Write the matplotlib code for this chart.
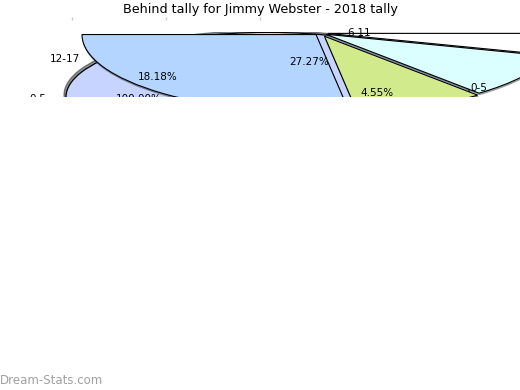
import matplotlib
matplotlib.use('Agg')
import matplotlib.pyplot as plt

W, H = 520, 390

title = 'Behind tally for Jimmy Webster - 2018 tally'

# front pie, only its lower half lands inside the clip box
main_shares = [27.27, 9.09, 9.09, 4.55]
main_colors = ['#b3d5ff', '#d1eb8c', '#dbffff', '#ffffff']
main_explode = [0.026, 0.046, 0.03, 0.034]   # fraction of radius

# pie sitting behind it (single slice)
back_shares = [100.0]
back_colors = ['#c6d4ff']

label_texts = ['12-17', '18.18%', '27.27%', '6-11', '4.55%', '0-5', '100.00%', '0-5']
label_px = [(65, 59), (158, 77), (309, 62), (359, 33), (377, 93), (479, 88), (139, 99), (38, 99)]

top_ticks = [72, 166, 260]

# clip box in pixels
clip_top, clip_bot = 32, 97
s_main, s_back = 0.333, 0.32      # vertical squash of each pie
r_main, r_back = 234, 202
k = 100 / 72.0                    # Shadow offsets are scaled by dpi/72

fig = plt.figure(figsize=(W / 100, H / 100), dpi=100)
rect = [0, 1 - clip_bot / H, 1, (clip_bot - clip_top) / H]

ax_back = fig.add_axes(rect)
ax_back.pie([v / 100 for v in back_shares], colors=back_colors, normalize=False,
            center=(268, -97 / s_back), radius=r_back,
            wedgeprops={'edgecolor': 'black', 'linewidth': 0.9},
            shadow={'ox': -2 / k, 'oy': 2 / s_back / k, 'shade': 0.85})
ax_back.set_aspect('auto')
ax_back.set_xlim(0, W)
ax_back.set_ylim(-clip_bot / s_back, -clip_top / s_back)
ax_back.axis('off')

ax = fig.add_axes(rect)
ax.patch.set_alpha(0)
# pie's explode offset is in data units, so scale it by the radius
ax.pie([v / 100 for v in main_shares], colors=main_colors, normalize=False,
       startangle=180, explode=[e * r_main for e in main_explode],
       center=(320, -33 / s_main), radius=r_main,
       wedgeprops={'edgecolor': 'black', 'linewidth': 0.8},
       shadow={'ox': 0.5 / k, 'oy': -1.5 / s_main / k, 'shade': 0.6})
ax.set_aspect('auto')
ax.set_xlim(0, W)
ax.set_ylim(-clip_bot / s_main, -clip_top / s_main)
ax.axis('off')

# keep every wedge (and its shadow) inside the plot box
for a in (ax_back, ax):
    for p in a.patches:
        p.set_clip_on(True)
        p.set_clip_box(a.bbox)

for txt, (x, y) in zip(label_texts, label_px):
    t = ax.text(x / W, 1 - y / H, txt, transform=fig.transFigure, fontsize=7.5,
                ha='center', va='center')
    if y > clip_bot:
        t.set_clip_on(True)
        t.set_clip_box(ax.bbox)

# faint tick marks above the plot
ax_t = fig.add_axes([0, 1 - 20 / H, 1, 0.0001])
ax_t.set_xlim(0, W)
ax_t.set_xticks(top_ticks)
ax_t.set_yticks([])
ax_t.tick_params(axis='x', top=True, bottom=False, labeltop=False, labelbottom=False,
                 length=2.5, width=1, color='#c8c8c8', direction='out')
for sp in ax_t.spines.values():
    sp.set_visible(False)

fig.text(0.5, 1 - 10 / H, title, ha='center', va='center', fontsize=9.2)
fig.text(0, 1 - 380 / H, 'Dream-Stats.com', ha='left', va='center',
         fontsize=8.5, color='#a0a0a0')

fig.savefig('out.png', dpi=100)
